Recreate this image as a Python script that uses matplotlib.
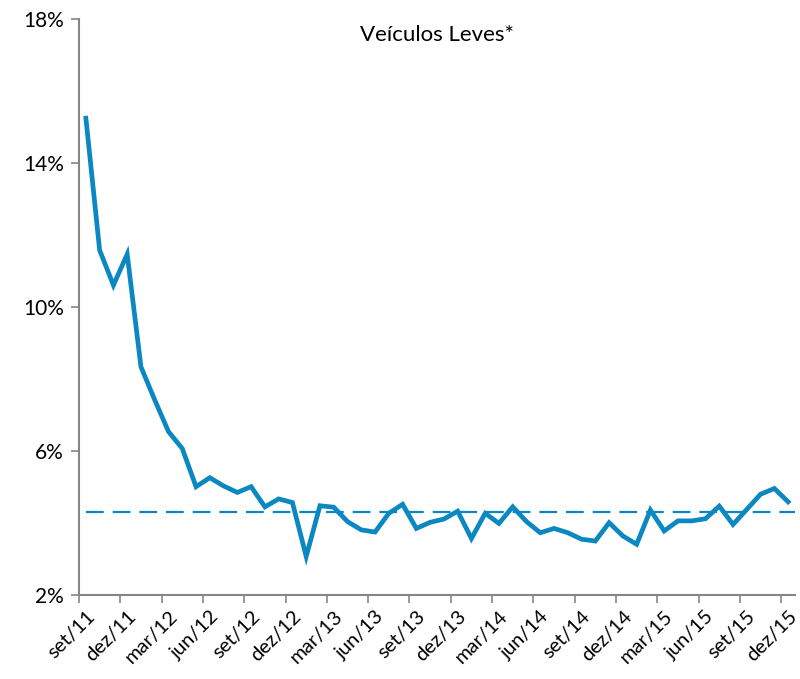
import matplotlib.pyplot as plt

plt.rcParams['font.family'] = ['Lato', 'DejaVu Sans']

meses = ['set', 'out', 'nov', 'dez', 'jan', 'fev', 'mar', 'abr', 'mai', 'jun', 'jul', 'ago']
labels = []
for i in range(52):
    m = meses[i % 12]
    ano = 11 + (i + 8) // 12
    labels.append('%s/%d' % (m, ano))

valores = [15.25, 11.58, 10.61, 11.47, 8.34, 7.42, 6.54, 6.07, 5.01, 5.26,
           5.03, 4.85, 5.01, 4.45, 4.67, 4.57, 3.07, 4.48, 4.44, 4.04,
           3.81, 3.75, 4.27, 4.52, 3.85, 4.02, 4.11, 4.33, 3.57, 4.27,
           3.99, 4.45, 4.04, 3.73, 3.85, 3.73, 3.55, 3.50, 4.01, 3.64,
           3.41, 4.36, 3.78, 4.06, 4.06, 4.12, 4.47, 3.96, 4.38, 4.80,
           4.96, 4.59]
media = 4.31

cor = '#0b88c1'
cinza = '#868686'

fig = plt.figure(figsize=(8, 6.79), dpi=100)
ax = fig.add_axes([0.09875, 0.1237, 0.895, 0.848])

x = list(range(len(valores)))
ax.plot(x, valores, color=cor, lw=3.4, solid_joinstyle='miter')
ax.plot([0, len(valores) - 0.5], [media, media], color=cor, lw=1.6, dashes=(8, 4))

ax.set_xlim(-0.5, len(valores) - 0.5)
ax.set_ylim(2, 18)
ax.set_yticks([2, 6, 10, 14, 18])
ax.set_yticklabels(['2%', '6%', '10%', '14%', '18%'], fontsize=15)

ax.set_xticks(x[::3])
ax.set_xticklabels(labels[::3], rotation=45, ha='right', va='top',
                   rotation_mode='anchor', fontsize=14.5)
ax.tick_params(axis='x', which='major', length=0, pad=9)
ax.set_xticks([i - 0.5 for i in x[::3]], minor=True)
ax.tick_params(axis='x', which='minor', length=6, color=cinza, width=1.2)
ax.tick_params(axis='y', length=6, color=cinza, width=1.2, pad=5)

for s in ['top', 'right']:
    ax.spines[s].set_visible(False)
for s in ['left', 'bottom']:
    ax.spines[s].set_color(cinza)
    ax.spines[s].set_linewidth(1.5)

ax.text(0.5, 0.99, 'Veículos Leves*', transform=ax.transAxes, ha='center',
        va='top', fontsize=16)

plt.savefig('out.png', dpi=100)
